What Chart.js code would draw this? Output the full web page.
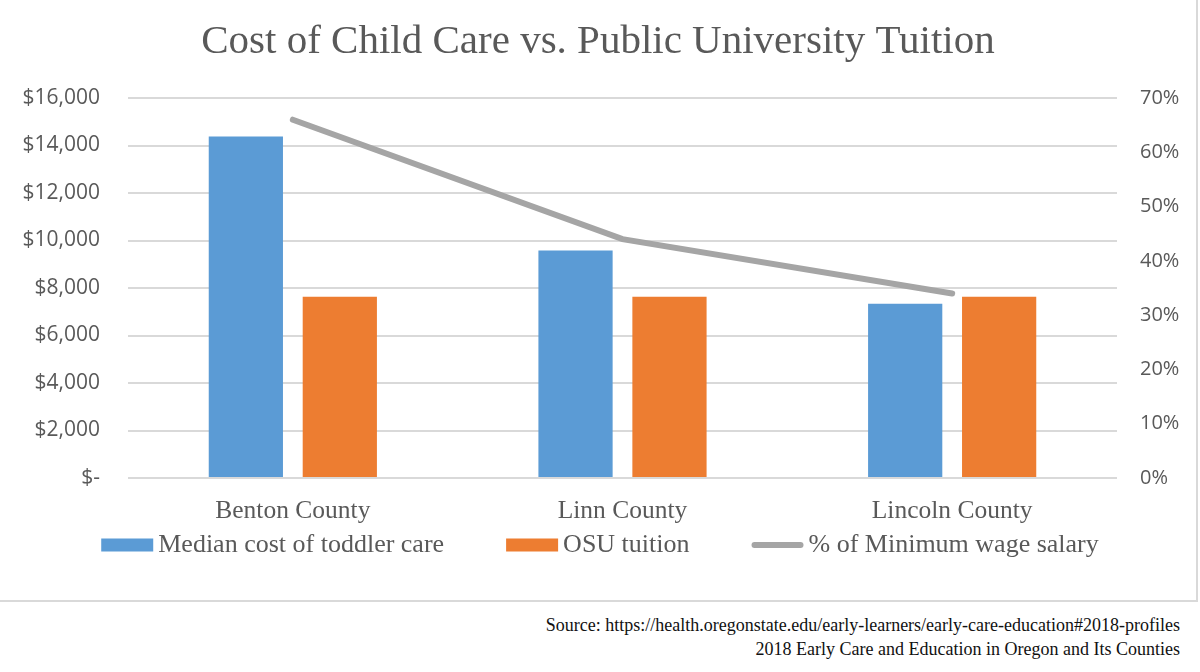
<!DOCTYPE html>
<html>
<head>
<meta charset="utf-8">
<script src="https://cdn.jsdelivr.net/npm/chart.js@4"></script>
<style>
  html, body { margin: 0; padding: 0; background: #ffffff; }
  #wrap { position: absolute; left: 0; top: 0; width: 1196px; height: 600px;
          border-right: 2px solid #d9d9d9; border-bottom: 2px solid #d9d9d9; background: #fff; }
  #src { position: absolute; right: 20px; top: 613px; text-align: right;
         font-family: "Liberation Serif", serif; font-size: 18px; line-height: 24px; color: #111; }
</style>
</head>
<body>
<div id="wrap"><canvas id="c" width="1196" height="600"></canvas></div>
<div id="src">Source: https://health.oregonstate.edu/early-learners/early-care-education#2018-profiles<br>2018 Early Care and Education in Oregon and Its Counties</div>
<script>
const titleText = "Cost of Child Care vs. Public University Tuition";
const categories = ["Benton County", "Linn County", "Lincoln County"];
const toddlerCare = [14380, 9580, 7340];
const osuTuition = [7635, 7635, 7635];
const minWagePct = [0.66, 0.44, 0.34];
const seriesNames = ["Median cost of toddler care", "OSU tuition", "% of Minimum wage salary"];

const BLUE = "#5B9BD5", ORANGE = "#ED7D31", GRAY = "#A5A5A5", TXT = "#595959";
const SERIF = '"Liberation Serif", "Times New Roman", serif';
const SANS = '"Open Sans", "Noto Sans", sans-serif';

const customLegend = {
  id: "customLegend",
  afterDraw(chart) {
    const ctx = chart.ctx;
    const ds = chart.data.datasets;
    const order = [1, 2, 0];
    ctx.save();
    ctx.font = "26px " + SERIF;
    const boxW = 52, boxH = 13, gap = 5, spacing = 62;
    const widths = order.map(i => boxW + gap + ctx.measureText(ds[i].label).width);
    const total = widths.reduce((a, b) => a + b, 0) + spacing * (order.length - 1);
    let x = 600 - total / 2;
    const yc = 545;
    order.forEach((i, k) => {
      const d = ds[i];
      if (d.type === "line") {
        ctx.strokeStyle = d.borderColor;
        ctx.lineWidth = 6;
        ctx.lineCap = "round";
        ctx.beginPath();
        ctx.moveTo(x + 3, yc);
        ctx.lineTo(x + boxW - 3, yc);
        ctx.stroke();
      } else {
        ctx.fillStyle = d.backgroundColor;
        ctx.fillRect(x, yc - boxH / 2, boxW, boxH);
      }
      ctx.fillStyle = TXT;
      ctx.textBaseline = "middle";
      ctx.textAlign = "left";
      ctx.fillText(d.label, x + boxW + gap, yc);
      x += widths[k] + spacing;
    });
    ctx.restore();
  }
};

new Chart(document.getElementById("c"), {
  data: {
    labels: categories,
    datasets: [
      { type: "line", label: seriesNames[2], data: minWagePct, yAxisID: "y1",
        borderColor: GRAY, backgroundColor: GRAY, borderWidth: 6, borderCapStyle: "round",
        pointRadius: 0, pointHoverRadius: 0, tension: 0, order: -1 },
      { type: "bar", label: seriesNames[0], data: toddlerCare, yAxisID: "y",
        backgroundColor: BLUE, borderWidth: 0,
        categoryPercentage: 0.57, barPercentage: 0.79 },
      { type: "bar", label: seriesNames[1], data: osuTuition, yAxisID: "y",
        backgroundColor: ORANGE, borderWidth: 0,
        categoryPercentage: 0.57, barPercentage: 0.79 }
    ]
  },
  options: {
    responsive: false,
    animation: false,
    layout: { padding: { left: 0, right: 0, top: 0, bottom: 62 } },
    plugins: {
      legend: { display: false },
      tooltip: { enabled: false },
      title: { display: true, text: titleText, color: TXT,
               font: { family: SERIF, size: 41, weight: "normal" },
               padding: { top: 18, bottom: 30.8 } }
    },
    scales: {
      x: {
        grid: { display: false },
        border: { display: false },
        ticks: { color: TXT, font: { family: SERIF, size: 25.5 }, padding: 10 },
        afterFit(s) { s.height = 60; }
      },
      y: {
        position: "left", min: 0, max: 16000,
        ticks: { stepSize: 2000, color: TXT, font: { family: SANS, size: 21 }, padding: 28,
                 callback: v => v === 0 ? "$-" : "$" + v.toLocaleString("en-US") },
        grid: { color: "#d9d9d9", lineWidth: 2, drawTicks: false },
        border: { display: false },
        afterFit(s) { s.width = 128; }
      },
      y1: {
        position: "right", min: 0, max: 0.7,
        ticks: { stepSize: 0.1, color: TXT, font: { family: SANS, size: 20 }, padding: 23,
                 callback: v => Math.round(v * 100) + "%" },
        grid: { display: false, drawTicks: false },
        border: { display: false },
        afterFit(s) { s.width = 79; }
      }
    }
  },
  plugins: [customLegend]
});
</script>
</body>
</html>
